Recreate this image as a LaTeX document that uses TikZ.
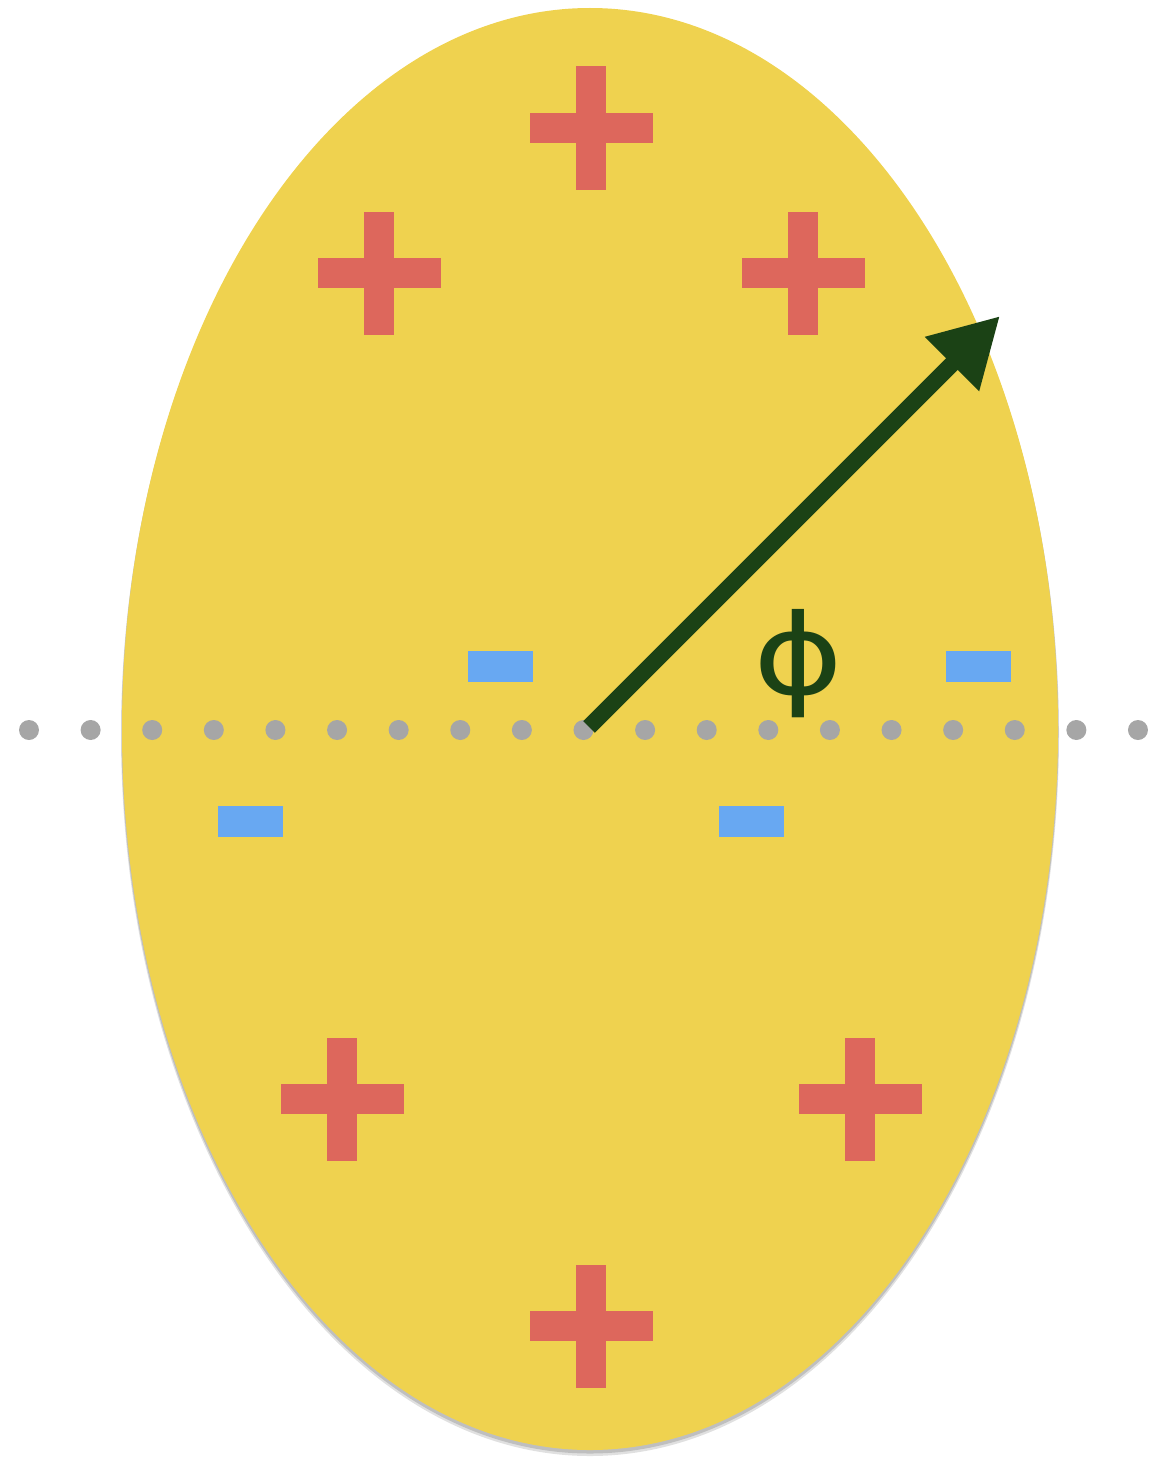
\documentclass[tikz,border=0pt]{standalone}
\usepackage{fontspec}
\newfontfamily\phifont{DejaVu Sans}
\usetikzlibrary{arrows.meta}
\definecolor{egg}{HTML}{EFD24F}
\definecolor{plusred}{HTML}{DD675C}
\definecolor{minusblue}{HTML}{68A8F2}
\definecolor{arrowgreen}{HTML}{1B4215}
\definecolor{dotgray}{HTML}{A6A6A6}
\tikzset{
  plussign/.pic={
    \fill[plusred] (-61.5,-15) rectangle (61.5,15);
    \fill[plusred] (-15,-61.5) rectangle (15,61.5);
  },
  minussign/.pic={
    \fill[minusblue] (-32.5,-15.5) rectangle (32.5,15.5);
  },
  vec/.style={draw=arrowgreen, line width=16.5pt, -{Triangle[length=68pt,width=72pt]}},
  dot/.style={fill=dotgray},
}
\begin{document}
\begin{tikzpicture}[x=1pt,y=-1pt]
\useasboundingbox (0,0) rectangle (1149,1461);
% shadow
\fill[black, opacity=0.12] (590,734) ellipse [x radius=469pt, y radius=722pt];
\fill[black, opacity=0.15] (590,732) ellipse [x radius=468.5pt, y radius=721.5pt];
% egg
\fill[egg] (590,729) ellipse [x radius=468pt, y radius=721pt];
% dots
\foreach \i in {0,...,18} \fill[dot] ({29+61.61*\i},730) circle (10pt);
% charges
\pic at (591,128) {plussign};
\pic at (379,273) {plussign};
\pic at (803,273) {plussign};
\pic at (342,1099) {plussign};
\pic at (860,1099) {plussign};
\pic at (591,1326) {plussign};
\pic at (500.5,666.5) {minussign};
\pic at (978,666.5) {minussign};
\pic at (250.5,821) {minussign};
\pic at (751,821) {minussign};
% arrow
\coordinate (O) at (589,727);
\coordinate (T) at (1000,316);
\draw[vec] (O) -- (T);
\node[inner sep=0pt, text=arrowgreen, font=\phifont\fontsize{112}{112}\selectfont] (phi) at (799,664) {\scalebox{1.22}[1]{ϕ}};
\end{tikzpicture}
\end{document}
